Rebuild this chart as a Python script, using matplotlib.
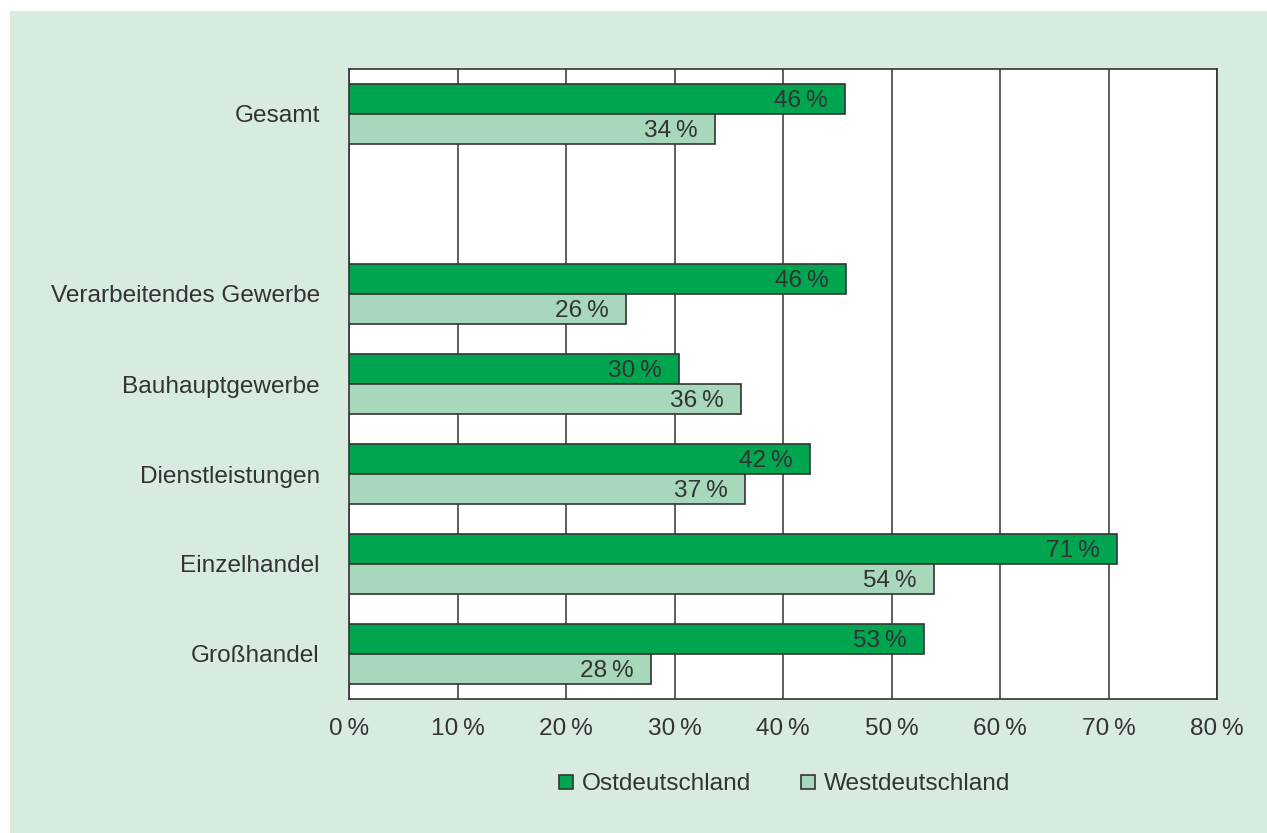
import matplotlib
matplotlib.use("Agg")
import matplotlib.pyplot as plt
from matplotlib.patches import Rectangle
from matplotlib.lines import Line2D
import numpy as np

plt.rcParams['font.family'] = ['Liberation Sans', 'DejaVu Sans']

categories = ["Gesamt", "", "Verarbeitendes Gewerbe", "Bauhauptgewerbe",
              "Dienstleistungen", "Einzelhandel", "Großhandel"]
ost = [45.7, None, 45.8, 30.4, 42.5, 70.8, 53.0]
west = [33.7, None, 25.5, 36.1, 36.5, 53.9, 27.8]
ost_labels = ["46", "", "46", "30", "42", "71", "53"]
west_labels = ["34", "", "26", "36", "37", "54", "28"]
xticks = [0, 10, 20, 30, 40, 50, 60, 70, 80]
series_names = ["Ostdeutschland", "Westdeutschland"]

c_ost = "#00a550"
c_west = "#a8d8bb"
bg = "#d7ebde"
edge = "#333333"
txt = "#333333"
fs = 17.6

W, H = 1267, 833
fig = plt.figure(figsize=(W / 100, H / 100), dpi=100, facecolor="white")
fig.patches.append(Rectangle((10 / W, 0), 1 - 10 / W, 1 - 11 / H,
                             transform=fig.transFigure, facecolor=bg,
                             edgecolor="none", zorder=-10))

ax = fig.add_axes([349 / W, 1 - 699 / H, (1217 - 349) / W, (699 - 69) / H])
ax.set_facecolor("white")

y = np.arange(len(categories))
bh = 1 / 3
for i, (o, w) in enumerate(zip(ost, west)):
    if o is None:
        continue
    ax.barh(y[i] - bh / 2, o, height=bh, color=c_ost, edgecolor=edge, linewidth=1.2, zorder=3)
    ax.barh(y[i] + bh / 2, w, height=bh, color=c_west, edgecolor=edge, linewidth=1.2, zorder=3)
    ax.text(o - 1.6, y[i] - bh / 2 + 0.02, ost_labels[i] + "\u2009%", ha="right", va="center",
            fontsize=fs, color=txt, zorder=4)
    ax.text(w - 1.6, y[i] + bh / 2 + 0.02, west_labels[i] + "\u2009%", ha="right", va="center",
            fontsize=fs, color=txt, zorder=4)

ax.set_xlim(0, 80)
ax.set_ylim(len(categories) - 0.5, -0.5)
ax.set_xticks(xticks)
ax.set_xticklabels([f"{t}\u2009%" for t in xticks], fontsize=fs, color=txt)
ax.set_yticks(y)
ax.set_yticklabels(categories, fontsize=fs, color=txt)
ax.tick_params(axis="both", length=0)
ax.tick_params(axis="x", pad=14)
ax.tick_params(axis="y", pad=21)
ax.grid(axis="x", color=edge, linewidth=1.1, zorder=1)
ax.set_axisbelow(True)
for s in ax.spines.values():
    s.set_color(edge)
    s.set_linewidth(1.2)

handles = [Line2D([], [], linestyle="none", marker="s", markersize=9.5,
                  markerfacecolor=c_ost, markeredgecolor=edge, markeredgewidth=1.2),
           Line2D([], [], linestyle="none", marker="s", markersize=9.5,
                  markerfacecolor=c_west, markeredgecolor=edge, markeredgewidth=1.2)]
leg = fig.legend(handles, series_names, loc="center", bbox_to_anchor=(784 / W, 1 - 784 / H),
                 ncol=2, frameon=False, fontsize=fs, handlelength=0.7,
                 handletextpad=0.3, columnspacing=2.0)
for t in leg.get_texts():
    t.set_color(txt)

fig.savefig("out.png", dpi=100, facecolor="white")
